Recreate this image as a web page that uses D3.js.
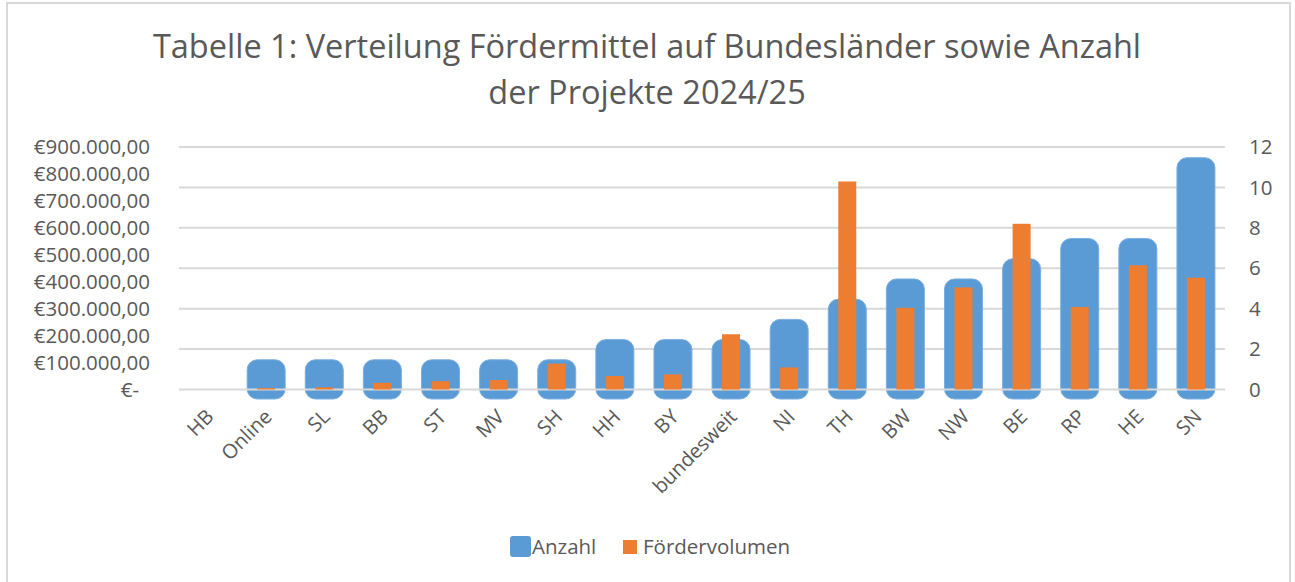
<!DOCTYPE html>
<html><head><meta charset="utf-8">
<script src="https://cdn.jsdelivr.net/npm/d3@7"></script>
<style>body{margin:0;background:#fff;} svg{display:block;}</style>
</head><body>
<svg id="chart" width="1295" height="582"></svg>
<script>
const categories = ["HB","Online","SL","BB","ST","MV","SH","HH","BY","bundesweit","NI","TH","BW","NW","BE","RP","HE","SN"];
const anzahl = [0,1,1,1,1,1,1,2,2,2,3,4,5,5,6,7,7,11];
const foerdervolumen = [0,5000,8000,25000,31000,35000,96000,50000,56000,205000,82000,772000,303000,379000,615000,306000,461000,415000];
const leftTicks = [0,100000,200000,300000,400000,500000,600000,700000,800000,900000];
const rightTicks = [0,2,4,6,8,10,12];
const titleLines = ["Tabelle 1: Verteilung Fördermittel auf Bundesländer sowie Anzahl","der Projekte 2024/25"];
const legendNames = ["Anzahl","Fördervolumen"];

const svg = d3.select("#chart");
const FONT = "'Open Sans', sans-serif";
const TXT = "#595959";
const BLUE = "#5B9BD5", ORANGE = "#ED7D31", GRID = "#d9d9d9";

svg.append("rect").attr("x",7).attr("y",3).attr("width",1283).attr("height",590)
  .attr("fill","#fff").attr("stroke",GRID).attr("stroke-width",2);

const plotL = 179, plotR = 1225, plotT = 147, plotB = 389.5;
const x = d3.scaleBand().domain(categories).range([plotL, plotR]);
const yL = d3.scaleLinear().domain([0,900000]).range([plotB, plotT]);
const yR = d3.scaleLinear().domain([0,12]).range([plotB, plotT]);

// title
svg.append("g").selectAll("text").data(titleLines).join("text")
  .attr("x",647).attr("y",(d,i)=>58+i*46)
  .attr("text-anchor","middle").attr("font-family",FONT).attr("font-size",32.5)
  .attr("fill",TXT).text(d=>d);

// gridlines (right axis ticks)
svg.append("g").selectAll("line").data(rightTicks.filter(t=>t>0)).join("line")
  .attr("x1",plotL).attr("x2",plotR).attr("y1",d=>yR(d)).attr("y2",d=>yR(d))
  .attr("stroke",GRID).attr("stroke-width",2);

// blue bars (rounded, thick outline)
const bw = 38, pad = 9.5;
svg.append("g").selectAll("rect").data(categories.map((c,i)=>({c,v:anzahl[i]})).filter(d=>d.v>0)).join("rect")
  .attr("x",d=>x(d.c)+x.bandwidth()/2-bw/2)
  .attr("y",d=>yR(d.v)-pad)
  .attr("width",bw)
  .attr("height",d=>yR(0)-yR(d.v)+2*pad)
  .attr("rx",10).attr("fill",BLUE).attr("stroke","#7aaee0").attr("stroke-width",1);

// baseline
svg.append("line").attr("x1",plotL).attr("x2",plotR).attr("y1",yR(0)).attr("y2",yR(0))
  .attr("stroke",GRID).attr("stroke-width",2);

// orange bars
const ow = 18;
svg.append("g").selectAll("rect").data(categories.map((c,i)=>({c,v:foerdervolumen[i]})).filter(d=>d.v>0)).join("rect")
  .attr("x",d=>x(d.c)+x.bandwidth()/2-ow/2)
  .attr("y",d=>yL(d.v))
  .attr("width",ow)
  .attr("height",d=>yL(0)-yL(d.v))
  .attr("fill",ORANGE);

// left axis labels
const fmtL = v => v===0 ? "€-" : "€" + d3.format(",.2f")(v).replace(/,/g,"#").replace(/\./g,",").replace(/#/g,".");
svg.append("g").selectAll("text").data(leftTicks).join("text")
  .attr("x",d=>d===0?139:150).attr("y",d=>yL(d)).attr("dy","0.35em")
  .attr("text-anchor","end").attr("font-family",FONT).attr("font-size",20.5)
  .attr("fill",TXT).text(fmtL);

// right axis labels
svg.append("g").selectAll("text").data(rightTicks).join("text")
  .attr("x",1249).attr("y",d=>yR(d)).attr("dy","0.35em")
  .attr("text-anchor","start").attr("font-family",FONT).attr("font-size",20.5)
  .attr("fill",TXT).text(d=>d);

// x labels rotated
svg.append("g").selectAll("text").data(categories).join("text")
  .attr("transform",d=>`translate(${x(d)+x.bandwidth()/2+2},${413}) rotate(-45)`)
  .attr("text-anchor","end").attr("dy","0.35em").attr("font-family",FONT).attr("font-size",20)
  .attr("fill",TXT).text(d=>d);

// legend
const lg = svg.append("g");
lg.append("rect").attr("x",510).attr("y",536).attr("width",21).attr("height",21).attr("rx",3).attr("fill",BLUE);
lg.append("text").attr("x",532).attr("y",547).attr("dy","0.35em").attr("font-family",FONT).attr("font-size",20.5).attr("fill",TXT).text(legendNames[0]);
lg.append("rect").attr("x",623).attr("y",540).attr("width",14).attr("height",14).attr("fill",ORANGE);
lg.append("text").attr("x",643).attr("y",547).attr("dy","0.35em").attr("font-family",FONT).attr("font-size",20.5).attr("fill",TXT).text(legendNames[1]);
</script>
</body></html>
